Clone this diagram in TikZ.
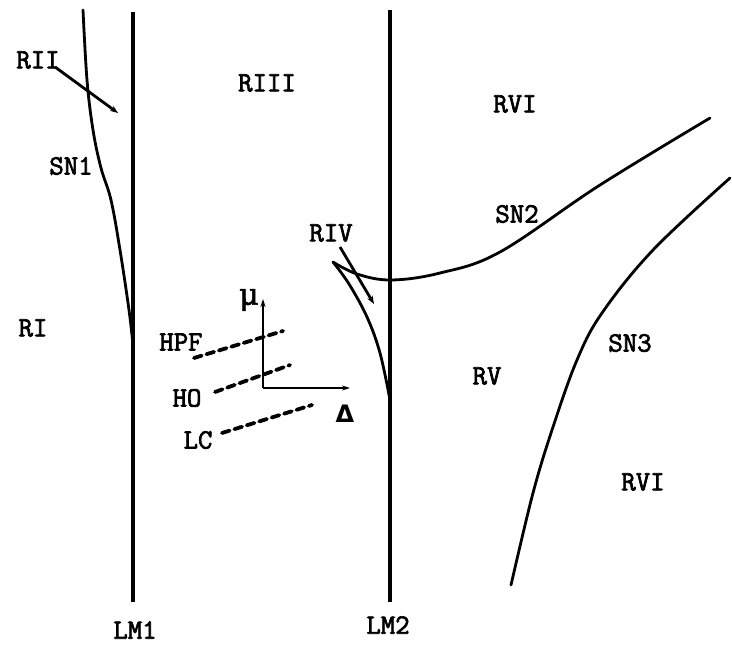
\documentclass[tikz,border=0pt]{standalone}
\usepackage{fontspec}
\newfontfamily\labfont[FakeBold=2.5]{Latin Modern Mono}
\newfontfamily\symserif[FakeBold=2]{DejaVu Serif}
\newfontfamily\symsans{DejaVu Sans}
\usetikzlibrary{arrows.meta}
\begin{document}
\begin{tikzpicture}[x=1pt,y=-1pt,
  lab/.style={font=\fontsize{28}{28}\selectfont\labfont, inner sep=0pt},
  lmline/.style={line width=3.8pt},
  curve/.style={line width=2.8pt, line cap=round, line join=round},
  pointer/.style={line width=2.8pt, -{Stealth[length=8pt,width=6pt]}},
  axis/.style={line width=2.8pt, -{Stealth[length=8pt,width=5pt]}},
  dashline/.style={line width=3.8pt, dash pattern=on 8pt off 5pt, line cap=round}]
\useasboundingbox (0,0) rectangle (732,645);
% vertical lines
\coordinate (lm1t) at (133,12);
\coordinate (lm1b) at (133,602);
\coordinate (lm2t) at (390,10);
\coordinate (lm2b) at (390,602);
\draw[lmline] (lm1t) -- (lm1b);
\draw[lmline] (lm2t) -- (lm2b);
% SN1
\draw[curve] plot[smooth, tension=0.6] coordinates {(83,10) (87,80) (93,130) (101,168) (111,200) (120,250) (129,310) (133,345)};
% SN2 with cusp
\draw[curve] plot[smooth, tension=0.6] coordinates {(390,400) (380,353) (367,317) (349,284) (333,262)};
\draw[curve] plot[smooth, tension=0.6] coordinates {(333,262) (357,274) (391,280) (440,273) (500,252) (600,185) (710,118)};
% SN3
\draw[curve] plot[smooth, tension=0.6] coordinates {(730,178) (653,250) (602,313) (577,360) (553,427) (533,493) (511,585)};
% labels
\node[lab] (RII) at (38,60) {RII};
\node[lab] (SN1) at (71,166) {SN1};
\node[lab] (RIII) at (267,83) {RIII};
\node[lab] (RVIa) at (515,104) {RVI};
\node[lab] (SN2) at (517,214) {SN2};
\node[lab] (RIV) at (331,233) {RIV};
\node[lab] (RI) at (33,328) {RI};
\node[lab] (RV) at (487,376) {RV};
\node[lab] (SN3) at (630,343) {SN3};
\node[lab] (RVIb) at (643,482) {RVI};
\node[lab] (LM1) at (135,630) {LM1};
\node[lab] (LM2) at (388,625) {LM2};
% pointers
\coordinate (riiS) at (55,67);
\coordinate (riiE) at (118,113);
\draw[pointer] (riiS) -- (riiE);
\coordinate (rivS) at (340,247);
\coordinate (rivE) at (374,304);
\draw[pointer] (rivS) -- (rivE);
% axes
\coordinate (O) at (263,388);
\coordinate (muE) at (263,299);
\coordinate (deE) at (350,388);
\draw[axis] (O) -- (muE);
\draw[axis] (O) -- (deE);
\node[inner sep=0pt, font=\fontsize{30}{30}\selectfont\symserif] (mu) at (249,300) {μ};
\node[inner sep=0pt, font=\fontsize{24}{24}\selectfont\symsans\bfseries] (delta) at (345,414) {Δ};
% dashed lines
\coordinate (hpfS) at (194,358);
\coordinate (hpfE) at (283,331);
\coordinate (hoS) at (215,392);
\coordinate (hoE) at (290,365);
\coordinate (lcS) at (222,433);
\coordinate (lcE) at (312,405);
\draw[dashline] (hpfS) -- (hpfE);
\draw[dashline] (hoS) -- (hoE);
\draw[dashline] (lcS) -- (lcE);
\node[lab] (HPF) at (181,342) {HPF};
\node[lab] (HO) at (187,398) {HO};
\node[lab] (LC) at (198,440) {LC};
\end{tikzpicture}
\end{document}
